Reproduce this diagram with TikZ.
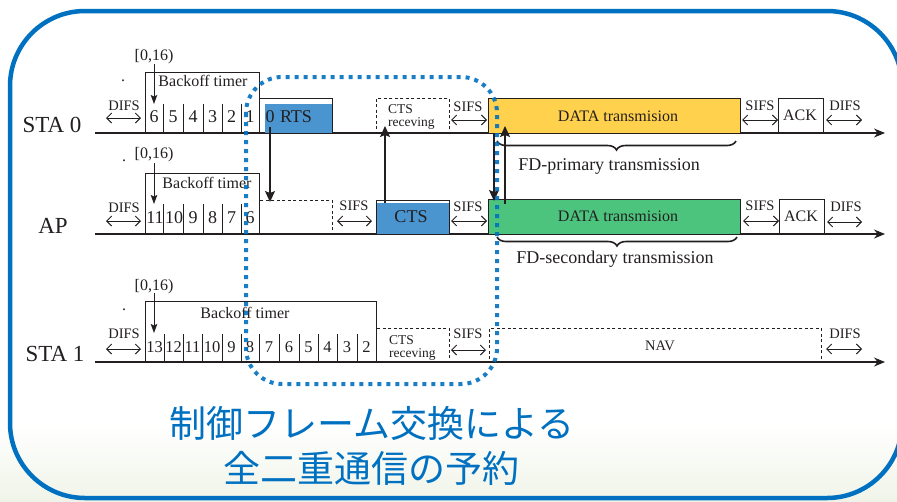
\documentclass[tikz,border=0pt]{standalone}
\usepackage{fontspec}
\setmainfont{Liberation Serif}
\newfontfamily\cjk{Noto Sans CJK JP}
\usetikzlibrary{arrows.meta,decorations.pathreplacing,calc}
\definecolor{frameblue}{HTML}{0070C0}
\definecolor{ink}{HTML}{231F20}
\definecolor{boxblue}{HTML}{4A94CF}
\definecolor{datayellow}{HTML}{FFD14C}
\definecolor{datagreen}{HTML}{4CC47E}
\definecolor{bgbottom}{HTML}{F0F4E8}
\tikzset{
  tline/.style={draw=ink, line width=1.1pt, -{Stealth[length=11pt,width=9pt]}},
  box/.style={draw=ink, line width=1pt, inner sep=0pt, anchor=north west, rectangle},
  dbox/.style={box, line width=0.9pt, dash pattern=on 3pt off 2.5pt},
  dur/.style={draw=ink, line width=0.9pt, {Straight Barb[length=5pt,width=10pt]}-{Straight Barb[length=5pt,width=10pt]}},
  sig/.style={draw=ink, line width=1.2pt, -{Stealth[length=11pt,width=10pt,inset=2pt]}},
  pick/.style={draw=ink, line width=1pt, -{Stealth[length=9pt,width=6.5pt,inset=1.5pt]}},
  divl/.style={draw=ink, line width=0.9pt},
  brc/.style={draw=ink, line width=1.6pt, decorate, decoration={brace, amplitude=9pt}},
  txt/.style={text=ink, inner sep=0pt, anchor=base},
  f13/.style={font=\fontsize{13.5}{15}\selectfont},
  f15/.style={font=\fontsize{14.5}{16}\selectfont},
  f16/.style={font=\fontsize{16}{18}\selectfont},
  f165/.style={font=\fontsize{16.5}{18}\selectfont},
  f18/.style={font=\fontsize{18}{20}\selectfont},
  f23/.style={font=\fontsize{23}{25}\selectfont},
  jp/.style={text=frameblue, inner sep=0pt, font=\cjk\fontsize{37}{40}\selectfont},
}
\newcommand\durarr[4]{\coordinate (#1a) at (#2,#4); \coordinate (#1b) at (#3,#4); \draw[dur] (#1a) -- (#1b);}
\begin{document}
\begin{tikzpicture}[x=1pt,y=-1pt]
\useasboundingbox (0,0) rectangle (897,501);
\clip (0,0) rectangle (897,501);
\shade[top color=white, bottom color=bgbottom] (0,425) rectangle (897,501);
\draw[frameblue, line width=4.5pt, rounded corners=75pt] (10,11) rectangle (902,498);

% timelines
\foreach \n/\y in {sa/133, ap/234, sb/362} {
  \coordinate (\n0) at (95,\y); \coordinate (\n1) at (885,\y);
}
\draw[tline] (sa0) -- (sa1);
\draw[tline] (ap0) -- (ap1);
\draw[tline] (sb0) -- (sb1);

% ---------------- STA 0
\node[txt,f23] (lsta0) at (52,132) {STA 0};
\node[txt,f16] (dot0) at (123,81) {.};
\node[txt,f15] (difs0t) at (124,110) {DIFS};
\durarr{difs0}{106}{141}{118}
\node[txt,f16] (rng0) at (154,60) {[0,16)};
\coordinate (rng0a) at (154,64); \coordinate (rng0b) at (154,104);
\draw[pick] (rng0a) -- (rng0b);
\node[box, minimum width=114pt, minimum height=61pt] (bk0) at (145,72) {};
\node[txt,f16] (bkt0) at (203,86) {Backoff timer};
\foreach \x in {163,183,203,222,241} \draw[divl] (\x,104) -- (\x,133);
\foreach \x/\d in {154/6,173/5,193/4,212.5/3,231.5/2,250/1} \node[txt,f18] (s0c\d) at (\x,122) {\d};
\fill[boxblue] (265,104) rectangle (332,133);
\node[box, minimum width=73pt, minimum height=35pt] (rts) at (259,98) {};
\node[txt,f18] (s0c0) at (270,122) {0};
\node[txt,f18] (rtst) at (296,122) {RTS};
\node[dbox, minimum width=73pt, minimum height=35pt] (ctsr0) at (376,98) {};
\node[txt,f13,anchor=base west] (ctsr0a) at (388,113) {CTS};
\node[txt,f13,anchor=base west] (ctsr0b) at (388,126) {receving};
\node[txt,f15] (sifs0at) at (468,111) {SIFS};
\durarr{sifs0a}{451}{487}{120}
\node[box, fill=datayellow, minimum width=252pt, minimum height=35pt] (data0) at (488,98) {};
\node[txt,f16] (data0t) at (618,121) {DATA transmision};
\node[txt,f15] (sifs0bt) at (760,110) {SIFS};
\durarr{sifs0b}{742}{778}{120}
\node[box, minimum width=45pt, minimum height=35pt] (ack0) at (778,98) {};
\node[txt,f16] (ack0t) at (800,120) {ACK};
\node[txt,f15] (difs0et) at (845,110) {DIFS};
\durarr{difs0e}{826}{862}{120}
\coordinate (br0a) at (736,141); \coordinate (br0b) at (497,141);
\draw[brc] (br0a) -- (br0b);
\node[txt,f18] (fdp) at (609,170) {FD-primary transmission};

% ---------------- AP
\node[txt,f23] (lap) at (53,233) {AP};
\node[txt,f16] (dot1) at (124,161) {.};
\node[txt,f15] (difs1t) at (124,212) {DIFS};
\durarr{difs1}{106}{141}{221}
\node[txt,f16] (rng1) at (154,158) {[0,16)};
\coordinate (rng1a) at (154,163); \coordinate (rng1b) at (154,204);
\draw[pick] (rng1a) -- (rng1b);
\node[box, minimum width=114pt, minimum height=61pt] (bk1) at (145,173) {};
\node[txt,f16] (bkt1) at (207,188) {Backoff timer};
\foreach \x in {163,183,203,222,241} \draw[divl] (\x,204) -- (\x,234);
\foreach \x/\d in {155/11,174/10,193/9,212.5/8,231.5/7,250/6} \node[txt,f18] (apc\d) at (\x,223) {\d};
\node[dbox, minimum width=73pt, minimum height=34pt] (apwait) at (259,200) {};
\node[txt,f15] (sifs1at) at (354,210) {SIFS};
\durarr{sifs1a}{337}{372}{221}
\fill[boxblue] (376,203) rectangle (450,235);
\node[box, minimum width=73pt, minimum height=34pt] (ctsap) at (376,200) {};
\node[txt,f18] (ctsapt) at (411,222) {CTS};
\node[txt,f15] (sifs1bt) at (468,211) {SIFS};
\durarr{sifs1b}{451}{487}{221}
\node[box, fill=datagreen, minimum width=252pt, minimum height=35pt] (data1) at (488,199) {};
\node[txt,f16] (data1t) at (618,221) {DATA transmision};
\node[txt,f15] (sifs1ct) at (760,210) {SIFS};
\durarr{sifs1c}{743}{779}{221}
\node[box, minimum width=45pt, minimum height=35pt] (ack1) at (779,199) {};
\node[txt,f16] (ack1t) at (801,221) {ACK};
\node[txt,f15] (difs1et) at (846,211) {DIFS};
\durarr{difs1e}{827}{862}{222}
\coordinate (br1a) at (737,237); \coordinate (br1b) at (497,237);
\draw[brc] (br1a) -- (br1b);
\node[txt,f18] (fds) at (615,263) {FD-secondary transmission};

% ---------------- STA 1
\node[txt,f23] (lsta1) at (55,361) {STA 1};
\node[txt,f16] (dot2) at (124,310) {.};
\node[txt,f15] (difs2t) at (124,338) {DIFS};
\durarr{difs2}{106}{141}{349}
\node[txt,f16] (rng2) at (154,290) {[0,16)};
\coordinate (rng2a) at (154,293); \coordinate (rng2b) at (154,333);
\draw[pick] (rng2a) -- (rng2b);
\node[box, minimum width=231pt, minimum height=61pt] (bk2) at (145,301) {};
\node[txt,f16] (bkt2) at (245,318) {Backoff timer};
\foreach \x in {164,183,202,222,241,259,279,299,318,337,357} \draw[divl] (\x,334) -- (\x,362);
\foreach \x/\d in {154.5/13,173.5/12,192.5/11,212/10,231.5/9,250/8,269/7,289/6,308.5/5,327.5/4,347/3,366.5/2} \node[txt,f165] (sbc\d) at (\x,352) {\d};
\node[dbox, minimum width=73pt, minimum height=34pt] (ctsr1) at (376,328) {};
\node[txt,f13,anchor=base west] (ctsr1a) at (389,344) {CTS};
\node[txt,f13,anchor=base west] (ctsr1b) at (389,357) {receving};
\node[txt,f15] (sifs2t) at (468,338) {SIFS};
\durarr{sifs2}{451}{486}{350}
\node[dbox, minimum width=332pt, minimum height=34pt] (nav) at (489,328) {};
\node[txt,f15] (navt) at (660,350) {NAV};
\node[txt,f15] (difs2et) at (845,338) {DIFS};
\durarr{difs2e}{826}{862}{349}

% ---------------- signalling arrows
\coordinate (rtsA) at (270,127); \coordinate (rtsB) at (270,202);
\draw[sig] (rtsA) -- (rtsB);
\coordinate (ctsA) at (385,203); \coordinate (ctsB) at (385,126);
\draw[sig] (ctsA) -- (ctsB);
\coordinate (fdA) at (494,133); \coordinate (fdB) at (494,201);
\draw[sig] (fdA) -- (fdB);
\coordinate (fdC) at (505,204); \coordinate (fdD) at (505,126);
\draw[sig] (fdC) -- (fdD);

% ---------------- dotted highlight
\draw[frameblue, line width=4pt, dash pattern=on 4pt off 5pt, rounded corners=36pt, opacity=0.9] (246,77) rectangle (497,384);

% ---------------- caption
\node[jp] (jp1) at (372,423) {制御フレーム交換による};
\node[jp] (jp2) at (371,468) {全二重通信の予約};
\end{tikzpicture}
\end{document}
